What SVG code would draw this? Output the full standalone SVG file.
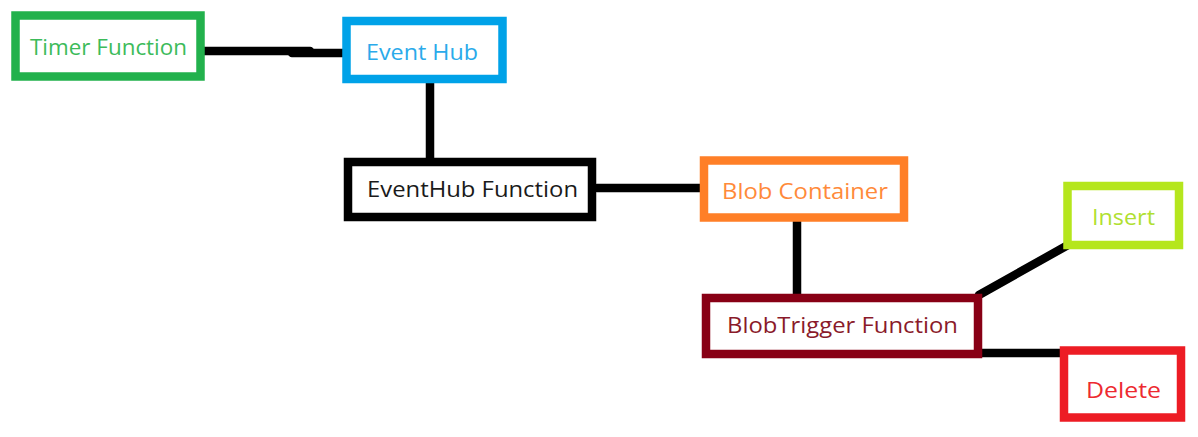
<svg xmlns="http://www.w3.org/2000/svg" width="1198" height="437" viewBox="0 0 1198 437">
<style>
.box{fill:#ffffff;stroke-width:8.5}
.lbl{font-family:"Open Sans","Noto Sans","Liberation Sans",sans-serif;font-size:22px}
.conn{stroke:#000000;stroke-width:8.5;stroke-linecap:round;fill:none}
</style>
<rect width="1198" height="437" fill="#ffffff"/>
<g id="connectors">
<line class="conn" x1="200" y1="51" x2="310" y2="51"/>
<line class="conn" x1="292" y1="53" x2="346" y2="53"/>
<line class="conn" x1="430" y1="82" x2="430" y2="162"/>
<line class="conn" x1="597" y1="188" x2="704" y2="188"/>
<line class="conn" x1="797" y1="216" x2="797" y2="301"/>
<line class="conn" x1="979" y1="295" x2="1068" y2="245"/>
<line class="conn" x1="975" y1="353" x2="1063" y2="353"/>
</g>
<g id="timer-function">
<rect class="box" x="15.5" y="15.5" width="185" height="61" stroke="#22b14c" stroke-width="8"/>
<text class="lbl" x="30" y="55" fill="#3cbb5a" textLength="157" lengthAdjust="spacingAndGlyphs">Timer Function</text>
</g>
<g id="event-hub">
<rect class="box" x="346.5" y="21" width="156" height="58" stroke="#00a2e8" stroke-width="8"/>
<text class="lbl" x="366" y="60" fill="#2aaaea" textLength="112" lengthAdjust="spacingAndGlyphs">Event Hub</text>
</g>
<g id="eventhub-function">
<rect class="box" x="348" y="162" width="244" height="55" stroke="#000000" stroke-width="10"/>
<text class="lbl" x="367" y="197" fill="#1a1a1a" textLength="211" lengthAdjust="spacingAndGlyphs">EventHub Function</text>
</g>
<g id="blob-container">
<rect class="box" x="704" y="160.5" width="200" height="57" stroke="#ff7f27"/>
<text class="lbl" x="722" y="199" fill="#ff8a3a" textLength="166" lengthAdjust="spacingAndGlyphs">Blob Container</text>
</g>
<g id="blobtrigger-function">
<rect class="box" x="706" y="298" width="272" height="56" stroke="#880015" stroke-width="9"/>
<text class="lbl" x="727" y="333" fill="#8a1a2a" textLength="231" lengthAdjust="spacingAndGlyphs">BlobTrigger Function</text>
</g>
<g id="insert">
<rect class="box" x="1067.5" y="186" width="111.5" height="59" stroke="#b5e61d"/>
<text class="lbl" x="1092" y="225" fill="#b0e030" textLength="63" lengthAdjust="spacingAndGlyphs">Insert</text>
</g>
<g id="delete">
<rect class="box" x="1064" y="350.5" width="117" height="67" stroke="#ed1c24"/>
<text class="lbl" x="1086" y="398" fill="#ed2a30" textLength="75" lengthAdjust="spacingAndGlyphs">Delete</text>
</g>
</svg>
